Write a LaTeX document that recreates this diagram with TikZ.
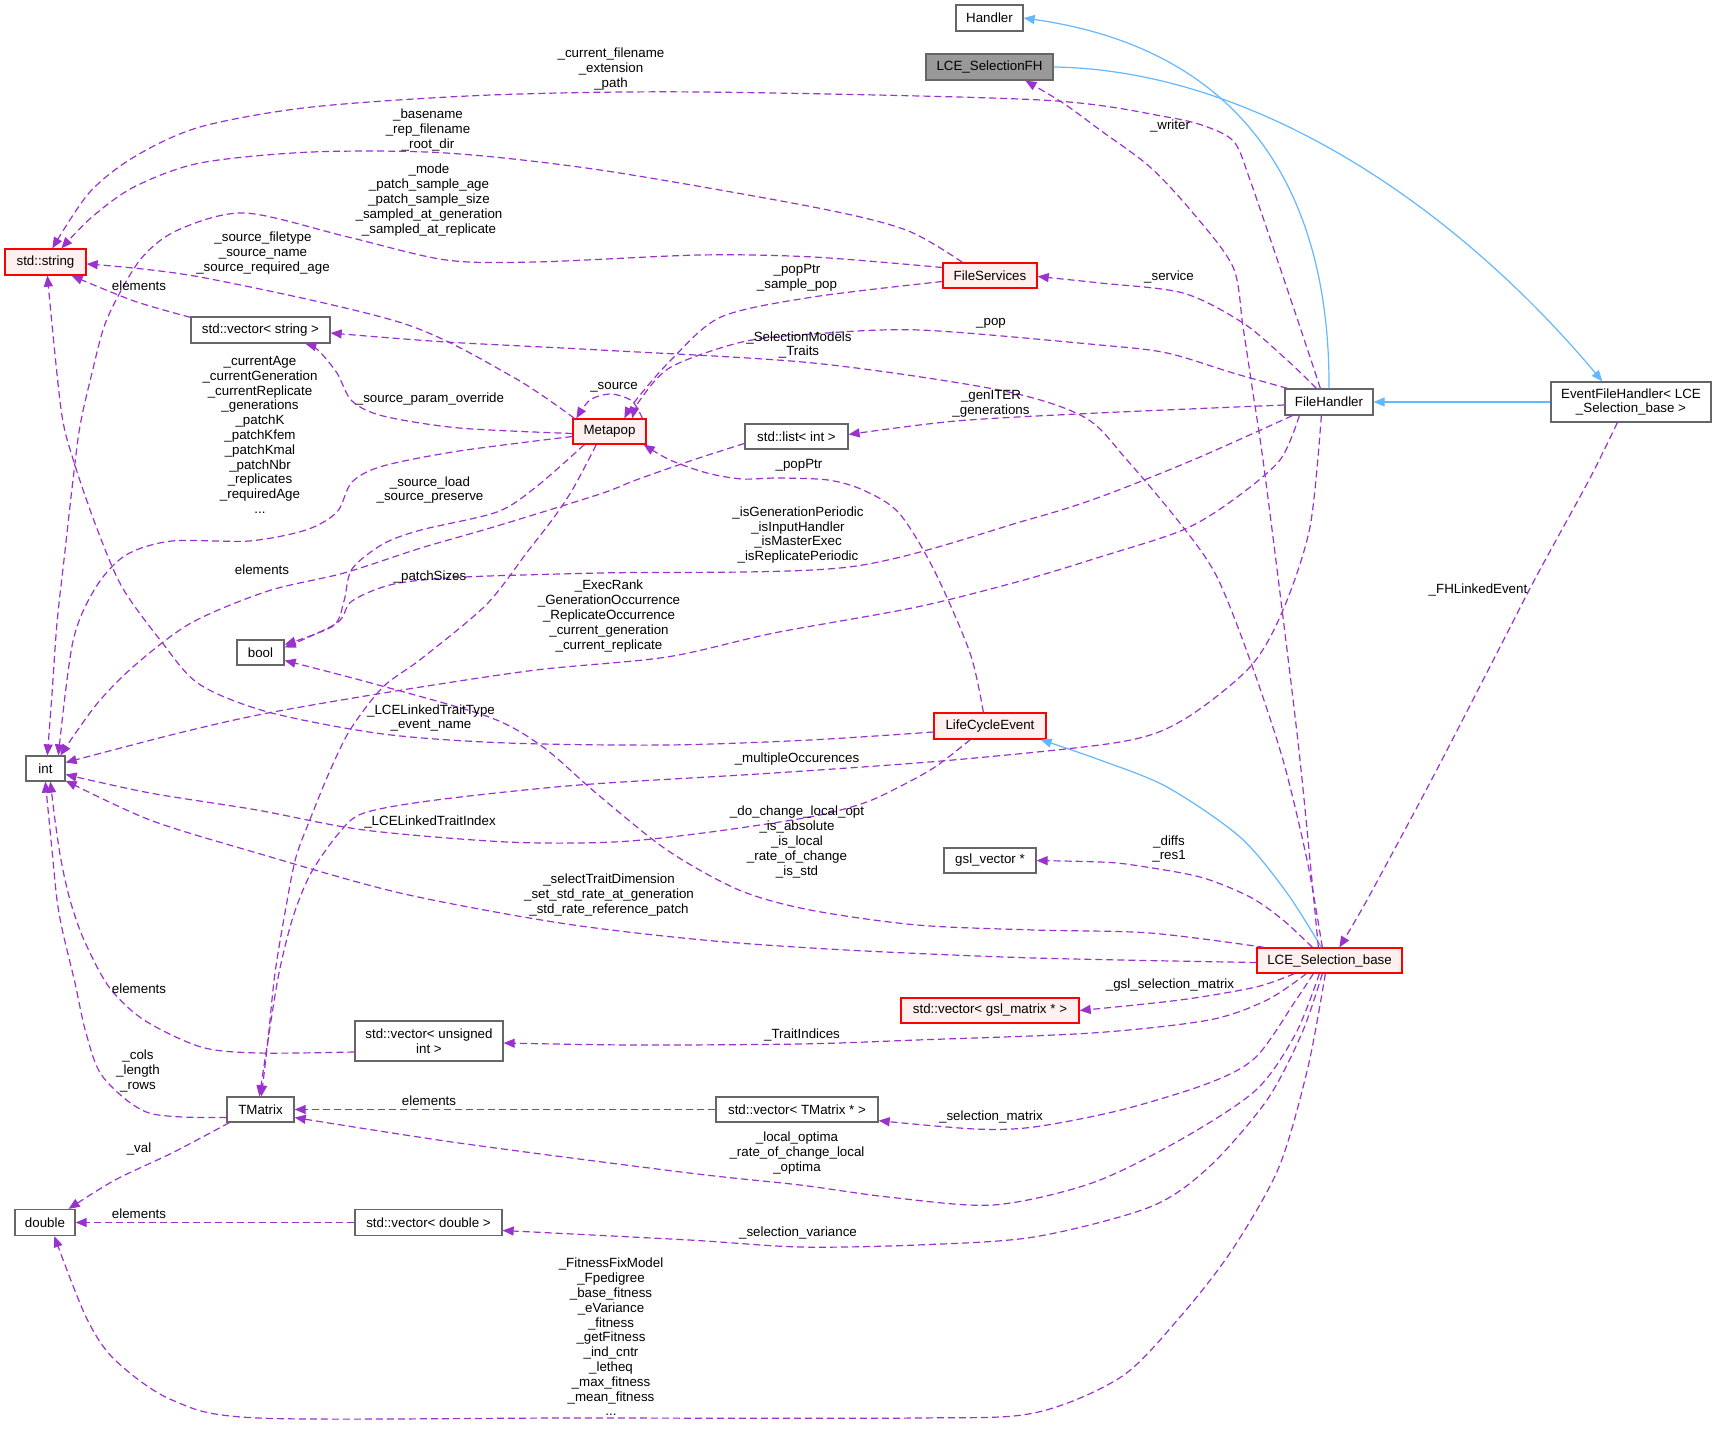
\documentclass[tikz,border=0pt]{standalone}
\usepackage{fontspec}
\setmainfont{Liberation Sans}
\usetikzlibrary{arrows.meta,calc}
\definecolor{depc}{HTML}{9A32CD}
\definecolor{inhc}{HTML}{63B8FF}
\definecolor{nborder}{HTML}{666666}
\definecolor{redfill}{HTML}{FFF0F0}
\definecolor{mainfill}{HTML}{999999}
\begin{document}
\begin{tikzpicture}[x=1pt,y=-1pt,font=\fontsize{13.33}{14.8}\selectfont,
  cls/.style={draw=nborder,fill=white,line width=1.3pt,inner sep=0pt,minimum height=25pt,align=center,text=black},
  redcls/.style={cls,draw=red,fill=redfill},
  maincls/.style={cls,fill=mainfill},
  dep/.style={draw=depc,line width=1.2pt,dash pattern=on 7pt off 4pt,-{Triangle[length=11pt,width=9pt]}},
  inh/.style={draw=inhc,line width=1.2pt,-{Triangle[length=11pt,width=9pt]}},
  lbl/.style={inner sep=0pt,align=center,text=black}]
\useasboundingbox (0,0) rectangle (1716,1431);
\fill[white] (0,0) rectangle (1716,1431);

% classes
\node[cls,minimum width=67pt,minimum height=26pt] (handler) at (989.5,18) {Handler};
\node[maincls,minimum width=127pt,minimum height=26pt] (fh) at (989.5,67) {LCE\_SelectionFH};
\node[redcls,minimum width=81pt,minimum height=26pt] (str) at (45.5,262) {std::string};
\node[cls,minimum width=139pt,minimum height=26pt] (vstr) at (260.5,330) {std::vector< string >};
\node[redcls,minimum width=73pt] (metapop) at (609.5,431.5) {Metapop};
\node[redcls,minimum width=94pt] (fs) at (990,275.5) {FileServices};
\node[cls,minimum width=88pt,minimum height=26pt] (fhd) at (1329,402) {FileHandler};
\node[cls,minimum width=160pt,minimum height=40pt] (efh) at (1631,402) {EventFileHandler< LCE\\\_Selection\_base >};
\node[cls,minimum width=103pt] (lint) at (796.5,436.5) {std::list< int >};
\node[cls,minimum width=47pt] (boolt) at (260.5,652.5) {bool};
\node[cls,minimum width=39pt] (intn) at (45.5,768.5) {int};
\node[redcls,minimum width=112pt,minimum height=26pt] (lce) at (990,726) {LifeCycleEvent};
\node[cls,minimum width=92pt] (gslv) at (990,860.5) {gsl\_vector *};
\node[redcls,minimum width=145pt] (lsb) at (1329.5,960.5) {LCE\_Selection\_base};
\node[redcls,minimum width=178pt] (vgsl) at (990,1010.5) {std::vector< gsl\_matrix * >};
\node[cls,minimum width=148pt,minimum height=40pt] (vui) at (429,1041) {std::vector< unsigned\\int >};
\node[cls,minimum width=67pt] (tm) at (260.5,1109.5) {TMatrix};
\node[cls,minimum width=162pt] (vtm) at (797,1109.5) {std::vector< TMatrix * >};
\node[cls,minimum width=60pt,minimum height=26pt] (dbl) at (45,1222.5) {double};
\node[cls,minimum width=147pt,minimum height=26pt] (vd) at (428.5,1222.5) {std::vector< double >};

% inheritance
\draw[inh] (fhd.north) .. controls (1330,200) and (1250,50) .. (handler.east);
\draw[inh] (fh.east) .. controls (1250,70) and (1450,200) .. ($(efh.north west)+(52,0)$);
\draw[inh] (efh.west) -- (fhd.east);
\draw[inh] plot[smooth] coordinates {($(lsb.north west)+(65,0)$) (1287,893) (1240,837) (1167,787) (1100,760) ($(lce.south east)+(-6,0)$)};

% usage
\draw[dep] plot[smooth] coordinates {($(lsb.north west)+(62,0)$) (1300,760) (1280,593) (1263,460) (1253,393) (1243,327) (1233,267) (1193,213) (1150,167) (1100,130) (1063,103) ($(fh.south west)+(100,0)$)};
\draw[dep] plot[smooth] coordinates {($(fhd.north west)+(36,0)$) (1300,327) (1273,247) (1250,180) (1235,143) (1210,128) (1167,117) (1041,100) (700,92) (491,95) (312,107) (200,127) (134,157) (89,193) ($(str.north west)+(48,0)$)};
\draw[dep] plot[smooth] coordinates {($(fs.north west)+(20,0)$) (906,230) (813,207) (600,170) (446,153) (312,152) (200,163) (134,187) (92,217) ($(str.north west)+(57,0)$)};
\draw[dep] plot[smooth] coordinates {($(fs.west)+(0,-8)$) (813,257) (700,255) (536,262) (446,260) (348,237) (245,213) (178,230) (140,260) (107,319) (92,373) (80,426) (73,480) (65,551) (57,623) (52,694) ($(intn.north west)+(22,0)$)};
\draw[dep] plot[smooth] coordinates {($(fs.west)+(0,6)$) (813,297) (721,317) (671,360) (636,400) ($(metapop.north west)+(52,0)$)};
\draw[dep] plot[smooth] coordinates {($(fhd.north west)+(32,0)$) (1287,360) (1243,323) (1183,293) (1100,283) ($(fs.east)+(0,1)$)};
\draw[dep] plot[smooth] coordinates {($(fhd.north west)+(3,0)$) (1233,373) (1167,353) (1100,345) (920,330) (813,334) (742,342) (671,367) (640,400) ($(metapop.north west)+(60,0)$)};
\draw[dep] plot[smooth] coordinates {($(lsb.north west)+(66,0)$) (1307,860) (1283,760) (1250,660) (1217,577) (1183,527) (1127,460) (1084,417) (999,390) (813,363) (600,350) (446,342) ($(vstr.east)+(0,3)$)};
\draw[dep] plot[smooth] coordinates {($(fhd.west)+(0,3)$) (1098,413) (956,421) ($(lint.east)+(0,-2)$)};
\draw[dep] plot[smooth] coordinates {($(metapop.north west)+(70,0)$) (632,401) (611,394) (590,400) ($(metapop.north west)+(4,0)$)};
\draw[dep] plot[smooth] coordinates {($(metapop.north west)+(2,0)$) (513,377) (402,323) (200,277) ($(str.east)+(0,2)$)};
\draw[dep] plot[smooth] coordinates {($(metapop.west)+(0,2)$) (459,428) (383,416) (352,401) (337,373) (318,350) ($(vstr.south west)+(115,0)$)};
\draw[dep] plot[smooth] coordinates {($(vstr.north west)+(0,1)$) (134,301) ($(str.south east)+(-15,0)$)};
\draw[dep] plot[smooth] coordinates {($(metapop.west)+(0,5)$) (459,451) (383,466) (352,482) (337,512) (306,530) (249,541) (172,541) (126,555) (96,587) (73,641) ($(intn.north west)+(33,0)$)};
\draw[dep] plot[smooth] coordinates {($(metapop.south west)+(12,0)$) (536,487) (497,512) (421,530) (383,544) (352,569) (344,601) (333,626) ($(boolt.east)+(0,-8)$)};
\draw[dep] plot[smooth] coordinates {($(metapop.south west)+(24,0)$) (574,487) (555,516) (528,551) (486,605) (421,659) (383,687) (350,730) (329,773) (311,817) (296,857) (286,907) (275,973) (268,1040) ($(tm.north west)+(35,0)$)};
\draw[dep] plot[smooth] coordinates {($(lint.west)+(0,7)$) (693,460) (636,480) (600,494) (497,526) (421,548) (344,573) (268,591) (191,623) (134,666) (96,705) ($(intn.north west)+(35,0)$)};
\draw[dep] plot[smooth] coordinates {($(lce.north west)+(50,0)$) (970,653) (934,570) (899,513) (863,490) (828,480) (778,478) (742,479) (707,473) (670,460) ($(metapop.south east)+(-3,0)$)};
\draw[dep] plot[smooth] coordinates {($(fhd.south west)+(8,0)$) (1193,460) (1100,497) (1027,520) (849,567) (600,573) (465,577) (394,584) (352,601) (337,623) ($(boolt.east)+(0,-5)$)};
\draw[dep] plot[smooth] coordinates {($(fhd.south west)+(15,0)$) (1280,460) (1233,500) (1183,530) (1100,557) (1024,580) (917,607) (774,633) (667,657) (536,670) (402,690) (268,713) (179,733) ($(intn.east)+(0,-6)$)};
\draw[dep] plot[smooth] coordinates {($(lce.west)+(0,6)$) (810,740) (667,745) (507,743) (383,734) (268,712) (199,684) (161,641) (122,587) (96,526) (73,459) (61,409) ($(str.south west)+(43,0)$)};
\draw[dep] plot[smooth] coordinates {($(fhd.south west)+(37,0)$) (1310,527) (1283,610) (1250,667) (1183,720) (1120,742) (953,760) (774,773) (579,785) (436,800) (364,813) (339,833) (311,873) (293,917) (279,973) (268,1040) ($(tm.north west)+(33,0)$)};
\draw[dep] plot[smooth] coordinates {($(lce.south west)+(37,0)$) (935,767) (899,787) (864,803) (810,817) (703,833) (614,842) (507,842) (364,830) (257,810) (150,793) ($(intn.east)+(0,6)$)};
\draw[dep] plot[smooth] coordinates {($(lsb.north west)+(8,0)$) (1150,933) (1034,930) (917,925) (810,910) (739,890) (667,850) (596,793) (543,747) (489,717) (371,683) ($(boolt.east)+(0,8)$)};
\draw[dep] plot[smooth] coordinates {($(lsb.north west)+(56,0)$) (1283,920) (1250,897) (1200,877) (1133,865) (1100,862) (gslv.east)};
\draw[dep] plot[smooth] coordinates {($(lsb.west)+(0,2)$) (1034,958) (846,950) (703,940) (560,923) (400,893) (257,853) (150,820) ($(intn.south east)+(0,-1)$)};
\draw[dep] plot[smooth] coordinates {($(efh.south west)+(67,0)$) (1589,480) (1536,577) (1500,647) (1433,777) (1367,900) ($(lsb.north west)+(83,0)$)};
\draw[dep] plot[smooth] coordinates {($(lsb.south west)+(38,0)$) (1256,987) (1180,1000) (vgsl.east)};
\draw[dep] plot[smooth] coordinates {($(lsb.south west)+(50,0)$) (1267,1000) (1209,1020) (1092,1033) (917,1040) (800,1044) (631,1045) ($(vui.east)+(0,2)$)};
\draw[dep] plot[smooth] coordinates {($(vui.west)+(0,11)$) (258,1053) (201,1047) (144,1020) (109,987) (84,940) (70,900) (61,860) (55,820) ($(intn.south west)+(25,0)$)};
\draw[dep] plot[smooth] coordinates {($(tm.west)+(0,8)$) (149,1113) (103,1077) (86,1033) (75,983) (63,933) (57,900) (52,850) ($(intn.south west)+(20,0)$)};
\draw[dep] (vtm.west) -- (tm.east);
\draw[dep] plot[smooth] coordinates {($(lsb.south west)+(57,0)$) (1296,1000) (1256,1057) (1209,1083) (1121,1110) (1034,1127) (975,1129) ($(vtm.south east)+(0,-2)$)};
\draw[dep] plot[smooth] coordinates {($(lsb.south west)+(63,0)$) (1296,1033) (1256,1090) (1180,1140) (1092,1183) (993,1205) (888,1197) (800,1185) (689,1173) (459,1143) ($(tm.east)+(0,8)$)};
\draw[dep] plot[smooth] coordinates {($(tm.south west)+(3,0)$) (172,1153) (115,1180) ($(dbl.north east)+(-7,0)$)};
\draw[dep] (vd.west) -- (dbl.east);
\draw[dep] plot[smooth] coordinates {($(lsb.south west)+(66,0)$) (1302,1033) (1267,1100) (1209,1167) (1150,1207) (1034,1237) (917,1245) (800,1247) (689,1240) ($(vd.east)+(0,8)$)};
\draw[dep] plot[smooth] coordinates {($(lsb.south west)+(69,0)$) (1308,1067) (1279,1167) (1232,1250) (1180,1317) (1121,1377) (1034,1413) (917,1418) (574,1418) (258,1418) (172,1400) (115,1360) (86,1317) ($(dbl.south west)+(40,0)$)};

% labels
\node[lbl] (l1) at (611,69) {\_current\_filename\\\_extension\\\_path};
\node[lbl] (l2) at (428,130) {\_basename\\\_rep\_filename\\\_root\_dir};
\node[lbl] (l3) at (429,200) {\_mode\\\_patch\_sample\_age\\\_patch\_sample\_size\\\_sampled\_at\_generation\\\_sampled\_at\_replicate};
\node[lbl] (l4) at (263,253) {\_source\_filetype\\\_source\_name\\\_source\_required\_age};
\node[lbl] (l5) at (139,286) {elements};
\node[lbl] (l6) at (1170,126) {\_writer};
\node[lbl] (l7) at (1169,277) {\_service};
\node[lbl] (l8) at (797,278) {\_popPtr\\\_sample\_pop};
\node[lbl] (l9) at (991,323) {\_pop};
\node[lbl] (l10) at (799,345) {\_SelectionModels\\\_Traits};
\node[lbl] (l11) at (614,387) {\_source};
\node[lbl] (l12) at (991,404) {\_genITER\\\_generations};
\node[lbl] (l13) at (430,399) {\_source\_param\_override};
\node[lbl] (l14) at (260,435) {\_currentAge\\\_currentGeneration\\\_currentReplicate\\\_generations\\\_patchK\\\_patchKfem\\\_patchKmal\\\_patchNbr\\\_replicates\\\_requiredAge\\...};
\node[lbl] (l15) at (799,465) {\_popPtr};
\node[lbl] (l16) at (430,490) {\_source\_load\\\_source\_preserve};
\node[lbl] (l17) at (798,535) {\_isGenerationPeriodic\\\_isInputHandler\\\_isMasterExec\\\_isReplicatePeriodic};
\node[lbl] (l18) at (262,570) {elements};
\node[lbl] (l19) at (430,577) {\_patchSizes};
\node[lbl] (l20) at (1478,590) {\_FHLinkedEvent};
\node[lbl] (l21) at (609,616) {\_ExecRank\\\_GenerationOccurrence\\\_ReplicateOccurrence\\\_current\_generation\\\_current\_replicate};
\node[lbl] (l22) at (431,718) {\_LCELinkedTraitType\\\_event\_name};
\node[lbl] (l23) at (797,759) {\_multipleOccurences};
\node[lbl] (l24) at (430,822) {\_LCELinkedTraitIndex};
\node[lbl] (l25) at (797,842) {\_do\_change\_local\_opt\\\_is\_absolute\\\_is\_local\\\_rate\_of\_change\\\_is\_std};
\node[lbl] (l26) at (1169,849) {\_diffs\\\_res1};
\node[lbl] (l27) at (609,895) {\_selectTraitDimension\\\_set\_std\_rate\_at\_generation\\\_std\_rate\_reference\_patch};
\node[lbl] (l28) at (1170,985) {\_gsl\_selection\_matrix};
\node[lbl] (l29) at (139,989) {elements};
\node[lbl] (l30) at (802,1035) {\_TraitIndices};
\node[lbl] (l31) at (138,1071) {\_cols\\\_length\\\_rows};
\node[lbl] (l32) at (429,1101) {elements};
\node[lbl] (l33) at (991,1117) {\_selection\_matrix};
\node[lbl] (l34) at (797,1153) {\_local\_optima\\\_rate\_of\_change\_local\\\_optima};
\node[lbl] (l35) at (139,1149) {\_val};
\node[lbl] (l36) at (139,1214) {elements};
\node[lbl] (l37) at (798,1233) {\_selection\_variance};
\node[lbl] (l38) at (611,1337) {\_FitnessFixModel\\\_Fpedigree\\\_base\_fitness\\\_eVariance\\\_fitness\\\_getFitness\\\_ind\_cntr\\\_letheq\\\_max\_fitness\\\_mean\_fitness\\...};
\end{tikzpicture}
\end{document}
